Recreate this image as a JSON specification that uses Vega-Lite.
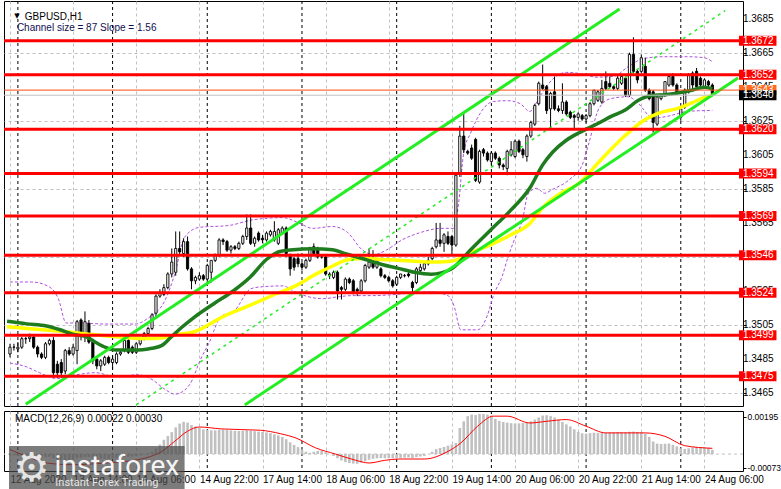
{
  "$schema": "https://vega.github.io/schema/vega-lite/v6.json",
  "background": "#ffffff",
  "padding": {"left": 2, "top": 0, "right": 0, "bottom": 0},
  "config": {
    "view": {"stroke": "#000000", "strokeWidth": 1},
    "axis": {"labelFont": "Liberation Sans", "labelFontSize": 10, "labelColor": "#000000"},
    "text": {"font": "Liberation Sans"}
  },
  "datasets": {
    "candles": [
      {"i":0,"o":1.3488,"h":1.3494,"l":1.3486,"c":1.3492},{"i":1,"o":1.3492,"h":1.3494,"l":1.3490,"c":1.3492},{"i":2,"o":1.3491,"h":1.3495,"l":1.3489,"c":1.3492},{"i":3,"o":1.3492,"h":1.3498,"l":1.3491,"c":1.3497},{"i":4,"o":1.3497,"h":1.3498,"l":1.3494,"c":1.3497},{"i":5,"o":1.3497,"h":1.3500,"l":1.3495,"c":1.3498},{"i":6,"o":1.3498,"h":1.3499,"l":1.3491,"c":1.3492},{"i":7,"o":1.3492,"h":1.3493,"l":1.3486,"c":1.3488},{"i":8,"o":1.3488,"h":1.3489,"l":1.3485,"c":1.3486},{"i":9,"o":1.3486,"h":1.3495,"l":1.3485,"c":1.3494},
      {"i":10,"o":1.3494,"h":1.3497,"l":1.3493,"c":1.3496},{"i":11,"o":1.3496,"h":1.3498,"l":1.3474,"c":1.3477},{"i":12,"o":1.3482,"h":1.3484,"l":1.3474,"c":1.3477},{"i":13,"o":1.3483,"h":1.3485,"l":1.3474,"c":1.3477},{"i":14,"o":1.3478,"h":1.3491,"l":1.3476,"c":1.3490},{"i":15,"o":1.3490,"h":1.3492,"l":1.3487,"c":1.3488},{"i":16,"o":1.3488,"h":1.3494,"l":1.3487,"c":1.3492},{"i":17,"o":1.3490,"h":1.3508,"l":1.3482,"c":1.3507},{"i":18,"o":1.3508,"h":1.3509,"l":1.3496,"c":1.3499},{"i":19,"o":1.3499,"h":1.3513,"l":1.3495,"c":1.3507},
      {"i":20,"o":1.3506,"h":1.3508,"l":1.3494,"c":1.3495},{"i":21,"o":1.3495,"h":1.3496,"l":1.3482,"c":1.3484},{"i":22,"o":1.3485,"h":1.3486,"l":1.3479,"c":1.3481},{"i":23,"o":1.3481,"h":1.3485,"l":1.3478,"c":1.3484},{"i":24,"o":1.3482,"h":1.3487,"l":1.3481,"c":1.3486},{"i":25,"o":1.3486,"h":1.3487,"l":1.3482,"c":1.3483},{"i":26,"o":1.3483,"h":1.3487,"l":1.3479,"c":1.3485},{"i":27,"o":1.3483,"h":1.3489,"l":1.3482,"c":1.3488},{"i":28,"o":1.3488,"h":1.3490,"l":1.3487,"c":1.3489},{"i":29,"o":1.3490,"h":1.3497,"l":1.3489,"c":1.3496},
      {"i":30,"o":1.3496,"h":1.3498,"l":1.3488,"c":1.3489},{"i":31,"o":1.3492,"h":1.3493,"l":1.3488,"c":1.3489},{"i":32,"o":1.3489,"h":1.3495,"l":1.3488,"c":1.3494},{"i":33,"o":1.3494,"h":1.3498,"l":1.3493,"c":1.3497},{"i":34,"o":1.3497,"h":1.3501,"l":1.3496,"c":1.3500},{"i":35,"o":1.3500,"h":1.3504,"l":1.3499,"c":1.3503},{"i":36,"o":1.3503,"h":1.3512,"l":1.3502,"c":1.3511},{"i":37,"o":1.3512,"h":1.3523,"l":1.3510,"c":1.3522},{"i":38,"o":1.3522,"h":1.3526,"l":1.3521,"c":1.3524},{"i":39,"o":1.3523,"h":1.3529,"l":1.3522,"c":1.3527},
      {"i":40,"o":1.3527,"h":1.3536,"l":1.3526,"c":1.3535},{"i":41,"o":1.3535,"h":1.3550,"l":1.3533,"c":1.3542},{"i":42,"o":1.3536,"h":1.3560,"l":1.3534,"c":1.3550},{"i":43,"o":1.3550,"h":1.3560,"l":1.3546,"c":1.3548},{"i":44,"o":1.3547,"h":1.3556,"l":1.3545,"c":1.3554},{"i":45,"o":1.3554,"h":1.3557,"l":1.3537,"c":1.3538},{"i":46,"o":1.3538,"h":1.3539,"l":1.3526,"c":1.3531},{"i":47,"o":1.3531,"h":1.3534,"l":1.3529,"c":1.3533},{"i":48,"o":1.3532,"h":1.3536,"l":1.3531,"c":1.3534},{"i":49,"o":1.3534,"h":1.3535,"l":1.3531,"c":1.3532},
      {"i":50,"o":1.3532,"h":1.3541,"l":1.3530,"c":1.3540},{"i":51,"o":1.3536,"h":1.3543,"l":1.3530,"c":1.3543},{"i":52,"o":1.3543,"h":1.3547,"l":1.3542,"c":1.3546},{"i":53,"o":1.3546,"h":1.3556,"l":1.3545,"c":1.3555},{"i":54,"o":1.3555,"h":1.3556,"l":1.3552,"c":1.3554},{"i":55,"o":1.3554,"h":1.3555,"l":1.3548,"c":1.3549},{"i":56,"o":1.3549,"h":1.3552,"l":1.3547,"c":1.3551},{"i":57,"o":1.3551,"h":1.3552,"l":1.3549,"c":1.3550},{"i":58,"o":1.3550,"h":1.3554,"l":1.3549,"c":1.3553},{"i":59,"o":1.3553,"h":1.3558,"l":1.3552,"c":1.3557},
      {"i":60,"o":1.3557,"h":1.3570,"l":1.3555,"c":1.3562},{"i":61,"o":1.3562,"h":1.3570,"l":1.3552,"c":1.3553},{"i":62,"o":1.3553,"h":1.3557,"l":1.3551,"c":1.3556},{"i":63,"o":1.3559,"h":1.3560,"l":1.3554,"c":1.3555},{"i":64,"o":1.3556,"h":1.3558,"l":1.3553,"c":1.3555},{"i":65,"o":1.3555,"h":1.3560,"l":1.3554,"c":1.3559},{"i":66,"o":1.3558,"h":1.3561,"l":1.3557,"c":1.3560},{"i":67,"o":1.3555,"h":1.3566,"l":1.3554,"c":1.3560},{"i":68,"o":1.3553,"h":1.3562,"l":1.3552,"c":1.3561},{"i":69,"o":1.3559,"h":1.3563,"l":1.3558,"c":1.3562},
      {"i":70,"o":1.3562,"h":1.3563,"l":1.3545,"c":1.3547},{"i":71,"o":1.3546,"h":1.3547,"l":1.3534,"c":1.3538},{"i":72,"o":1.3544,"h":1.3545,"l":1.3537,"c":1.3539},{"i":73,"o":1.3544,"h":1.3547,"l":1.3539,"c":1.3541},{"i":74,"o":1.3541,"h":1.3542,"l":1.3537,"c":1.3539},{"i":75,"o":1.3539,"h":1.3544,"l":1.3538,"c":1.3543},{"i":76,"o":1.3543,"h":1.3551,"l":1.3542,"c":1.3550},{"i":77,"o":1.3551,"h":1.3553,"l":1.3546,"c":1.3547},{"i":78,"o":1.3550,"h":1.3551,"l":1.3544,"c":1.3545},{"i":79,"o":1.3545,"h":1.3546,"l":1.3544,"c":1.3545},
      {"i":80,"o":1.3545,"h":1.3546,"l":1.3534,"c":1.3535},{"i":81,"o":1.3535,"h":1.3536,"l":1.3532,"c":1.3534},{"i":82,"o":1.3533,"h":1.3537,"l":1.3532,"c":1.3536},{"i":83,"o":1.3536,"h":1.3537,"l":1.3520,"c":1.3525},{"i":84,"o":1.3527,"h":1.3528,"l":1.3520,"c":1.3526},{"i":85,"o":1.3526,"h":1.3533,"l":1.3525,"c":1.3532},{"i":86,"o":1.3532,"h":1.3533,"l":1.3529,"c":1.3530},{"i":87,"o":1.3531,"h":1.3532,"l":1.3523,"c":1.3524},{"i":88,"o":1.3526,"h":1.3527,"l":1.3522,"c":1.3525},{"i":89,"o":1.3525,"h":1.3532,"l":1.3524,"c":1.3531},
      {"i":90,"o":1.3531,"h":1.3541,"l":1.3530,"c":1.3540},{"i":91,"o":1.3539,"h":1.3550,"l":1.3538,"c":1.3542},{"i":92,"o":1.3542,"h":1.3549,"l":1.3538,"c":1.3539},{"i":93,"o":1.3539,"h":1.3544,"l":1.3538,"c":1.3543},{"i":94,"o":1.3538,"h":1.3539,"l":1.3533,"c":1.3534},{"i":95,"o":1.3534,"h":1.3535,"l":1.3532,"c":1.3533},{"i":96,"o":1.3533,"h":1.3534,"l":1.3530,"c":1.3531},{"i":97,"o":1.3531,"h":1.3532,"l":1.3527,"c":1.3528},{"i":98,"o":1.3529,"h":1.3534,"l":1.3528,"c":1.3533},{"i":99,"o":1.3533,"h":1.3535,"l":1.3532,"c":1.3535},
      {"i":100,"o":1.3534,"h":1.3535,"l":1.3533,"c":1.3534},{"i":101,"o":1.3535,"h":1.3536,"l":1.3533,"c":1.3534},{"i":102,"o":1.3530,"h":1.3531,"l":1.3523,"c":1.3527},{"i":103,"o":1.3530,"h":1.3539,"l":1.3529,"c":1.3538},{"i":104,"o":1.3537,"h":1.3541,"l":1.3536,"c":1.3539},{"i":105,"o":1.3538,"h":1.3542,"l":1.3537,"c":1.3541},{"i":106,"o":1.3541,"h":1.3545,"l":1.3540,"c":1.3543},{"i":107,"o":1.3544,"h":1.3551,"l":1.3543,"c":1.3550},{"i":108,"o":1.3551,"h":1.3565,"l":1.3550,"c":1.3555},{"i":109,"o":1.3555,"h":1.3565,"l":1.3551,"c":1.3553},
      {"i":110,"o":1.3553,"h":1.3559,"l":1.3548,"c":1.3558},{"i":111,"o":1.3557,"h":1.3560,"l":1.3552,"c":1.3553},{"i":112,"o":1.3557,"h":1.3558,"l":1.3546,"c":1.3552},{"i":113,"o":1.3552,"h":1.3594,"l":1.3551,"c":1.3593},{"i":114,"o":1.3594,"h":1.3622,"l":1.3592,"c":1.3616},{"i":115,"o":1.3616,"h":1.3630,"l":1.3606,"c":1.3608},{"i":116,"o":1.3607,"h":1.3608,"l":1.3605,"c":1.3606},{"i":117,"o":1.3609,"h":1.3611,"l":1.3602,"c":1.3603},{"i":118,"o":1.3614,"h":1.3615,"l":1.3589,"c":1.3590},{"i":119,"o":1.3589,"h":1.3608,"l":1.3588,"c":1.3607},
      {"i":120,"o":1.3608,"h":1.3609,"l":1.3604,"c":1.3606},{"i":121,"o":1.3606,"h":1.3607,"l":1.3601,"c":1.3602},{"i":122,"o":1.3601,"h":1.3607,"l":1.3599,"c":1.3606},{"i":123,"o":1.3606,"h":1.3607,"l":1.3602,"c":1.3603},{"i":124,"o":1.3603,"h":1.3604,"l":1.3597,"c":1.3599},{"i":125,"o":1.3599,"h":1.3600,"l":1.3596,"c":1.3598},{"i":126,"o":1.3597,"h":1.3608,"l":1.3593,"c":1.3607},{"i":127,"o":1.3605,"h":1.3613,"l":1.3604,"c":1.3608},{"i":128,"o":1.3604,"h":1.3614,"l":1.3603,"c":1.3613},{"i":129,"o":1.3613,"h":1.3614,"l":1.3606,"c":1.3607},
      {"i":130,"o":1.3608,"h":1.3609,"l":1.3603,"c":1.3605},{"i":131,"o":1.3604,"h":1.3617,"l":1.3601,"c":1.3616},{"i":132,"o":1.3616,"h":1.3625,"l":1.3615,"c":1.3624},{"i":133,"o":1.3623,"h":1.3635,"l":1.3622,"c":1.3634},{"i":134,"o":1.3635,"h":1.3648,"l":1.3634,"c":1.3647},{"i":135,"o":1.3646,"h":1.3658,"l":1.3643,"c":1.3644},{"i":136,"o":1.3645,"h":1.3646,"l":1.3629,"c":1.3631},{"i":137,"o":1.3632,"h":1.3642,"l":1.3620,"c":1.3641},{"i":138,"o":1.3642,"h":1.3651,"l":1.3631,"c":1.3632},{"i":139,"o":1.3632,"h":1.3634,"l":1.3630,"c":1.3631},
      {"i":140,"o":1.3631,"h":1.3647,"l":1.3629,"c":1.3636},{"i":141,"o":1.3636,"h":1.3637,"l":1.3628,"c":1.3629},{"i":142,"o":1.3630,"h":1.3631,"l":1.3626,"c":1.3627},{"i":143,"o":1.3628,"h":1.3629,"l":1.3620,"c":1.3627},{"i":144,"o":1.3627,"h":1.3630,"l":1.3625,"c":1.3629},{"i":145,"o":1.3628,"h":1.3629,"l":1.3625,"c":1.3626},{"i":146,"o":1.3626,"h":1.3629,"l":1.3624,"c":1.3628},{"i":147,"o":1.3628,"h":1.3636,"l":1.3627,"c":1.3635},{"i":148,"o":1.3635,"h":1.3643,"l":1.3634,"c":1.3643},{"i":149,"o":1.3637,"h":1.3643,"l":1.3636,"c":1.3642},
      {"i":150,"o":1.3636,"h":1.3649,"l":1.3635,"c":1.3644},{"i":151,"o":1.3648,"h":1.3654,"l":1.3643,"c":1.3644},{"i":152,"o":1.3647,"h":1.3651,"l":1.3644,"c":1.3645},{"i":153,"o":1.3645,"h":1.3646,"l":1.3643,"c":1.3644},{"i":154,"o":1.3644,"h":1.3652,"l":1.3643,"c":1.3650},{"i":155,"o":1.3647,"h":1.3652,"l":1.3646,"c":1.3651},{"i":156,"o":1.3650,"h":1.3651,"l":1.3639,"c":1.3640},{"i":157,"o":1.3640,"h":1.3665,"l":1.3639,"c":1.3664},{"i":158,"o":1.3664,"h":1.3674,"l":1.3653,"c":1.3654},{"i":159,"o":1.3654,"h":1.3655,"l":1.3647,"c":1.3649},
      {"i":160,"o":1.3654,"h":1.3664,"l":1.3653,"c":1.3662},{"i":161,"o":1.3657,"h":1.3662,"l":1.3642,"c":1.3643},{"i":162,"o":1.3643,"h":1.3644,"l":1.3637,"c":1.3638},{"i":163,"o":1.3642,"h":1.3643,"l":1.3618,"c":1.3624},{"i":164,"o":1.3623,"h":1.3640,"l":1.3622,"c":1.3639},{"i":165,"o":1.3638,"h":1.3641,"l":1.3637,"c":1.3640},{"i":166,"o":1.3640,"h":1.3648,"l":1.3639,"c":1.3648},{"i":167,"o":1.3646,"h":1.3652,"l":1.3645,"c":1.3651},{"i":168,"o":1.3651,"h":1.3653,"l":1.3645,"c":1.3646},{"i":169,"o":1.3646,"h":1.3647,"l":1.3641,"c":1.3642},
      {"i":170,"o":1.3627,"h":1.3633,"l":1.3625,"c":1.3632},{"i":171,"o":1.3633,"h":1.3644,"l":1.3632,"c":1.3643},{"i":172,"o":1.3642,"h":1.3653,"l":1.3641,"c":1.3652},{"i":173,"o":1.3653,"h":1.3654,"l":1.3643,"c":1.3646},{"i":174,"o":1.3654,"h":1.3656,"l":1.3644,"c":1.3645},{"i":175,"o":1.3650,"h":1.3651,"l":1.3645,"c":1.3646},{"i":176,"o":1.3645,"h":1.3650,"l":1.3644,"c":1.3649},{"i":177,"o":1.3648,"h":1.3649,"l":1.3644,"c":1.3646},{"i":178,"o":1.3646,"h":1.3647,"l":1.3640,"c":1.3641}
    ],
    "ma": [
      {"s":"fast","i":-0.75,"p":1.35072},{"s":"fast","i":4.25,"p":1.35057},{"s":"fast","i":9.25,"p":1.35045},{"s":"fast","i":12.5,"p":1.35024},{"s":"fast","i":15.9,"p":1.34996},{"s":"fast","i":19.25,"p":1.34982},{"s":"fast","i":21.75,"p":1.34948},{"s":"fast","i":24.25,"p":1.34919},{"s":"fast","i":26.75,"p":1.34904},{"s":"fast","i":32.5,"p":1.34904},{"s":"fast","i":35,"p":1.34910},{"s":"fast","i":38.4,"p":1.34929},{"s":"fast","i":40.9,"p":1.34981},{"s":"fast","i":43.4,"p":1.35034},{"s":"fast","i":46.75,"p":1.35097},{"s":"fast","i":51.75,"p":1.35177},{"s":"fast","i":56.75,"p":1.35253},{"s":"fast","i":60.9,"p":1.35332},{"s":"fast","i":65,"p":1.35435},{"s":"fast","i":68.4,"p":1.35482},{"s":"fast","i":71.75,"p":1.35492},{"s":"fast","i":76.75,"p":1.35498},{"s":"fast","i":81.75,"p":1.35492},{"s":"fast","i":85,"p":1.35469},{"s":"fast","i":89.25,"p":1.35441},{"s":"fast","i":94.25,"p":1.35406},{"s":"fast","i":98.4,"p":1.35383},{"s":"fast","i":102.5,"p":1.35360},{"s":"fast","i":106.75,"p":1.35349},{"s":"fast","i":111.75,"p":1.35378},{"s":"fast","i":116.75,"p":1.35492},{"s":"fast","i":121.75,"p":1.35607},{"s":"fast","i":126.75,"p":1.35721},{"s":"fast","i":131.75,"p":1.35855},{"s":"fast","i":135,"p":1.35991},{"s":"fast","i":137.5,"p":1.36065},{"s":"fast","i":140.9,"p":1.36134},{"s":"fast","i":144.25,"p":1.36180},{"s":"fast","i":149.25,"p":1.36237},{"s":"fast","i":152.5,"p":1.36277},{"s":"fast","i":155.9,"p":1.36313},{"s":"fast","i":159.25,"p":1.36370},{"s":"fast","i":162.5,"p":1.36399},{"s":"fast","i":165.9,"p":1.36403},{"s":"fast","i":169.25,"p":1.36413},{"s":"fast","i":172.5,"p":1.36428},{"s":"fast","i":175.9,"p":1.36447},{"s":"fast","i":178,"p":1.36438},
      {"s":"slow","i":-0.75,"p":1.35040},{"s":"slow","i":7.5,"p":1.35024},{"s":"slow","i":14.25,"p":1.35011},{"s":"slow","i":20.9,"p":1.34994},{"s":"slow","i":26.75,"p":1.34982},{"s":"slow","i":32.5,"p":1.34971},{"s":"slow","i":35.9,"p":1.34971},{"s":"slow","i":39.25,"p":1.34977},{"s":"slow","i":42.5,"p":1.34994},{"s":"slow","i":46.75,"p":1.35011},{"s":"slow","i":54.25,"p":1.35103},{"s":"slow","i":60.9,"p":1.35167},{"s":"slow","i":67.5,"p":1.35234},{"s":"slow","i":72.5,"p":1.35282},{"s":"slow","i":77.5,"p":1.35349},{"s":"slow","i":81.75,"p":1.35397},{"s":"slow","i":85.9,"p":1.35435},{"s":"slow","i":90,"p":1.35441},{"s":"slow","i":94.25,"p":1.35435},{"s":"slow","i":98.4,"p":1.35431},{"s":"slow","i":102.5,"p":1.35425},{"s":"slow","i":106.75,"p":1.35420},{"s":"slow","i":111.75,"p":1.35425},{"s":"slow","i":116.75,"p":1.35475},{"s":"slow","i":121.75,"p":1.35521},{"s":"slow","i":126.75,"p":1.35578},{"s":"slow","i":131.75,"p":1.35647},{"s":"slow","i":135,"p":1.35740},{"s":"slow","i":139.25,"p":1.35819},{"s":"slow","i":144.25,"p":1.35884},{"s":"slow","i":149.25,"p":1.36008},{"s":"slow","i":155.9,"p":1.36163},{"s":"slow","i":160.9,"p":1.36256},{"s":"slow","i":164.25,"p":1.36294},{"s":"slow","i":169.25,"p":1.36323},{"s":"slow","i":172.5,"p":1.36352},{"s":"slow","i":175.9,"p":1.36386},{"s":"slow","i":178,"p":1.36399}
    ],
    "bb": [
      {"b":"up","i":0,"p":1.35303},{"b":"up","i":5.5,"p":1.35303},{"b":"up","i":10,"p":1.35274},{"b":"up","i":12.25,"p":1.35205},{"b":"up","i":14.25,"p":1.35062},{"b":"up","i":18,"p":1.35062},{"b":"up","i":24.25,"p":1.35056},{"b":"up","i":31.75,"p":1.35056},{"b":"up","i":35,"p":1.35091},{"b":"up","i":39.25,"p":1.35194},{"b":"up","i":41.75,"p":1.35349},{"b":"up","i":44.25,"p":1.35566},{"b":"up","i":48,"p":1.35624},{"b":"up","i":55.5,"p":1.35635},{"b":"up","i":61.75,"p":1.35669},{"b":"up","i":69.25,"p":1.35681},{"b":"up","i":73,"p":1.35652},{"b":"up","i":76.75,"p":1.35618},{"b":"up","i":81.75,"p":1.35629},{"b":"up","i":85.5,"p":1.35595},{"b":"up","i":89.25,"p":1.35492},{"b":"up","i":92.25,"p":1.35463},{"b":"up","i":95.5,"p":1.35492},{"b":"up","i":99.25,"p":1.35549},{"b":"up","i":104.25,"p":1.35595},{"b":"up","i":109.25,"p":1.35618},{"b":"up","i":112.5,"p":1.35618},{"b":"up","i":113.75,"p":1.35778},{"b":"up","i":115,"p":1.36065},{"b":"up","i":116.75,"p":1.36179},{"b":"up","i":122.5,"p":1.36363},{"b":"up","i":126,"p":1.36368},{"b":"up","i":129.25,"p":1.36351},{"b":"up","i":131.75,"p":1.36305},{"b":"up","i":134.25,"p":1.36391},{"b":"up","i":137.5,"p":1.36494},{"b":"up","i":141,"p":1.36534},{"b":"up","i":145.5,"p":1.36523},{"b":"up","i":148.5,"p":1.36506},{"b":"up","i":153,"p":1.36511},{"b":"up","i":156.75,"p":1.36569},{"b":"up","i":160.5,"p":1.36615},{"b":"up","i":165.5,"p":1.36626},{"b":"up","i":171.75,"p":1.36626},{"b":"up","i":176,"p":1.36620},{"b":"up","i":178,"p":1.36597},
      {"b":"lo","i":0,"p":1.34827},{"b":"lo","i":4.25,"p":1.34804},{"b":"lo","i":7.5,"p":1.34770},{"b":"lo","i":11.75,"p":1.34736},{"b":"lo","i":16.75,"p":1.34758},{"b":"lo","i":21.75,"p":1.34770},{"b":"lo","i":26.75,"p":1.34747},{"b":"lo","i":32.5,"p":1.34758},{"b":"lo","i":36,"p":1.34730},{"b":"lo","i":39.25,"p":1.34673},{"b":"lo","i":41.75,"p":1.34644},{"b":"lo","i":44.25,"p":1.34667},{"b":"lo","i":46.25,"p":1.34730},{"b":"lo","i":48,"p":1.34833},{"b":"lo","i":50.5,"p":1.34948},{"b":"lo","i":53.5,"p":1.35102},{"b":"lo","i":56.75,"p":1.35131},{"b":"lo","i":61,"p":1.35263},{"b":"lo","i":63.5,"p":1.35274},{"b":"lo","i":69.25,"p":1.35280},{"b":"lo","i":71.75,"p":1.35251},{"b":"lo","i":75.5,"p":1.35217},{"b":"lo","i":79.25,"p":1.35205},{"b":"lo","i":83.5,"p":1.35217},{"b":"lo","i":86.75,"p":1.35223},{"b":"lo","i":91.75,"p":1.35223},{"b":"lo","i":96.75,"p":1.35228},{"b":"lo","i":102.5,"p":1.35240},{"b":"lo","i":106.75,"p":1.35245},{"b":"lo","i":111,"p":1.35223},{"b":"lo","i":112.5,"p":1.35165},{"b":"lo","i":114.25,"p":1.35022},{"b":"lo","i":118.5,"p":1.35022},{"b":"lo","i":121,"p":1.35108},{"b":"lo","i":122.5,"p":1.35223},{"b":"lo","i":124.75,"p":1.35337},{"b":"lo","i":126.25,"p":1.35452},{"b":"lo","i":127.5,"p":1.35532},{"b":"lo","i":130,"p":1.35681},{"b":"lo","i":131.25,"p":1.35818},{"b":"lo","i":133.5,"p":1.35853},{"b":"lo","i":135.5,"p":1.35824},{"b":"lo","i":137.5,"p":1.35847},{"b":"lo","i":141.75,"p":1.35904},{"b":"lo","i":145,"p":1.35990},{"b":"lo","i":146.75,"p":1.36122},{"b":"lo","i":149.25,"p":1.36322},{"b":"lo","i":152.25,"p":1.36380},{"b":"lo","i":156.75,"p":1.36391},{"b":"lo","i":159.25,"p":1.36351},{"b":"lo","i":163,"p":1.36265},{"b":"lo","i":166.75,"p":1.36277},{"b":"lo","i":171.75,"p":1.36305},{"b":"lo","i":178,"p":1.36311}
    ],
    "chan": [
      {"line":"up","i":4,"p":1.34585},{"line":"up","i":154.5,"p":1.36907},
      {"line":"low","i":59.5,"p":1.34581},{"line":"low","i":184.5,"p":1.36501},
      {"line":"mid","i":32,"p":1.34581},{"line":"mid","i":181.25,"p":1.36897}
    ],
    "levels": [{"p":1.3672},{"p":1.3652},{"p":1.3620},{"p":1.3594},{"p":1.3569},{"p":1.3546},{"p":1.3524},{"p":1.3499},{"p":1.3475}],
    "quotes": [{"p":1.3643,"k":"ask"},{"p":1.3640,"k":"bid"}],
    "ticks": [{"p":1.3465},{"p":1.3485},{"p":1.3505},{"p":1.3525},{"p":1.3545},{"p":1.3565},{"p":1.3585},{"p":1.3605},{"p":1.3625},{"p":1.3645},{"p":1.3665},{"p":1.3685}],
    "days": [{"d":2},{"d":26},{"d":50},{"d":74},{"d":98},{"d":122},{"d":146},{"d":170}],
    "macd": [
      {"i":0,"v":-0.00005},{"i":1,"v":-0.00008},{"i":2,"v":-0.0001},{"i":3,"v":-0.0001},{"i":4,"v":-0.00009},{"i":5,"v":-0.00008},{"i":6,"v":-0.0001},{"i":7,"v":-0.00013},{"i":8,"v":-0.00016},{"i":9,"v":-0.00015},
      {"i":10,"v":-0.00014},{"i":11,"v":-0.00022},{"i":12,"v":-0.00028},{"i":13,"v":-0.00033},{"i":14,"v":-0.00032},{"i":15,"v":-0.00032},{"i":16,"v":-0.0003},{"i":17,"v":-0.00022},{"i":18,"v":-0.0002},{"i":19,"v":-0.00015},
      {"i":20,"v":-0.00015},{"i":21,"v":-0.0002},{"i":22,"v":-0.00024},{"i":23,"v":-0.00025},{"i":24,"v":-0.00025},{"i":25,"v":-0.00025},{"i":26,"v":-0.00024},{"i":27,"v":-0.00022},{"i":28,"v":-0.0002},{"i":29,"v":-0.00015},
      {"i":30,"v":-0.00014},{"i":31,"v":-0.00013},{"i":32,"v":-0.0001},{"i":33,"v":-0.00006},{"i":34,"v":-0.00002},{"i":35,"v":0.00003},{"i":36,"v":0.00012},{"i":37,"v":0.0003},{"i":38,"v":0.0005},{"i":39,"v":0.00075},
      {"i":40,"v":0.00095},{"i":41,"v":0.00115},{"i":42,"v":0.0014},{"i":43,"v":0.0016},{"i":44,"v":0.00169},{"i":45,"v":0.00165},{"i":46,"v":0.00152},{"i":47,"v":0.00145},{"i":48,"v":0.00138},{"i":49,"v":0.0013},
      {"i":50,"v":0.00127},{"i":51,"v":0.00125},{"i":52,"v":0.00124},{"i":53,"v":0.00127},{"i":54,"v":0.00128},{"i":55,"v":0.00126},{"i":56,"v":0.00124},{"i":57,"v":0.00122},{"i":58,"v":0.00121},{"i":59,"v":0.00122},
      {"i":60,"v":0.00124},{"i":61,"v":0.00122},{"i":62,"v":0.0012},{"i":63,"v":0.00118},{"i":64,"v":0.00116},{"i":65,"v":0.00114},{"i":66,"v":0.0011},{"i":67,"v":0.00104},{"i":68,"v":0.00098},{"i":69,"v":0.0009},
      {"i":70,"v":0.00078},{"i":71,"v":0.00062},{"i":72,"v":0.00048},{"i":73,"v":0.00036},{"i":74,"v":0.00024},{"i":75,"v":0.00012},{"i":76,"v":0.00006},{"i":77,"v":0.00012},{"i":78,"v":0.00016},{"i":79,"v":0.00018},
      {"i":80,"v":0.0001},{"i":81,"v":0.0},{"i":82,"v":-0.0001},{"i":83,"v":-0.00022},{"i":84,"v":-0.00034},{"i":85,"v":-0.00042},{"i":86,"v":-0.00047},{"i":87,"v":-0.0005},{"i":88,"v":-0.00051},{"i":89,"v":-0.00045},
      {"i":90,"v":-0.00038},{"i":91,"v":-0.0003},{"i":92,"v":-0.00025},{"i":93,"v":-0.00022},{"i":94,"v":-0.00021},{"i":95,"v":-0.00022},{"i":96,"v":-0.00022},{"i":97,"v":-0.00022},{"i":98,"v":-0.00021},{"i":99,"v":-0.0002},
      {"i":100,"v":-0.00019},{"i":101,"v":-0.00018},{"i":102,"v":-0.0002},{"i":103,"v":-0.00016},{"i":104,"v":-0.00013},{"i":105,"v":-0.0001},{"i":106,"v":0.0},{"i":107,"v":0.00012},{"i":108,"v":0.00026},{"i":109,"v":0.00032},
      {"i":110,"v":0.00037},{"i":111,"v":0.00044},{"i":112,"v":0.0005},{"i":113,"v":0.00058},{"i":114,"v":0.00137},{"i":115,"v":0.00172},{"i":116,"v":0.00199},{"i":117,"v":0.00207},{"i":118,"v":0.00205},{"i":119,"v":0.00211},
      {"i":120,"v":0.0021},{"i":121,"v":0.00207},{"i":122,"v":0.00202},{"i":123,"v":0.00185},{"i":124,"v":0.00174},{"i":125,"v":0.00168},{"i":126,"v":0.00165},{"i":127,"v":0.00162},{"i":128,"v":0.0016},{"i":129,"v":0.00161},
      {"i":130,"v":0.00163},{"i":131,"v":0.00166},{"i":132,"v":0.00172},{"i":133,"v":0.00181},{"i":134,"v":0.00192},{"i":135,"v":0.00202},{"i":136,"v":0.00204},{"i":137,"v":0.00199},{"i":138,"v":0.00192},{"i":139,"v":0.0018},
      {"i":140,"v":0.00168},{"i":141,"v":0.00156},{"i":142,"v":0.00145},{"i":143,"v":0.0013},{"i":144,"v":0.00116},{"i":145,"v":0.00109},{"i":146,"v":0.00107},{"i":147,"v":0.0011},{"i":148,"v":0.00112},{"i":149,"v":0.00111},
      {"i":150,"v":0.0011},{"i":151,"v":0.00111},{"i":152,"v":0.00113},{"i":153,"v":0.00114},{"i":154,"v":0.00115},{"i":155,"v":0.00115},{"i":156,"v":0.00114},{"i":157,"v":0.00117},{"i":158,"v":0.00118},{"i":159,"v":0.00116},
      {"i":160,"v":0.00114},{"i":161,"v":0.00106},{"i":162,"v":0.0009},{"i":163,"v":0.00066},{"i":164,"v":0.00055},{"i":165,"v":0.00053},{"i":166,"v":0.00054},{"i":167,"v":0.00055},{"i":168,"v":0.00048},{"i":169,"v":0.0004},
      {"i":170,"v":0.0003},{"i":171,"v":0.00027},{"i":172,"v":0.0003},{"i":173,"v":0.00035},{"i":174,"v":0.00037},{"i":175,"v":0.00036},{"i":176,"v":0.00037},{"i":177,"v":0.00033},{"i":178,"v":0.00022}
    ],
    "signal": [
      {"i":0,"v":0.00023},{"i":4.25,"v":-0.00012},{"i":9.25,"v":-0.00047},{"i":16,"v":-0.00056},{"i":24.25,"v":-0.00047},{"i":30,"v":-0.00037},{"i":34.25,"v":-0.00021},{"i":38.5,"v":0.00014},{"i":41.75,"v":0.00067},{"i":45,"v":0.0012},{"i":48,"v":0.00142},{"i":53.5,"v":0.00132},{"i":63.5,"v":0.00125},{"i":68.5,"v":0.00107},{"i":72.5,"v":0.00084},{"i":77.5,"v":0.00032},{"i":82.5,"v":0.0},{"i":87.5,"v":-0.00032},{"i":91,"v":-0.00047},{"i":95,"v":-0.00033},{"i":98.5,"v":-0.00026},{"i":105,"v":-0.00026},{"i":111,"v":0.00014},{"i":114.25,"v":0.00058},{"i":118.5,"v":0.00146},{"i":122.5,"v":0.00199},{"i":126,"v":0.00199},{"i":131.75,"v":0.00163},{"i":136,"v":0.00172},{"i":141,"v":0.00181},{"i":146,"v":0.00146},{"i":151,"v":0.00111},{"i":161,"v":0.00111},{"i":166,"v":0.00093},{"i":171,"v":0.00044},{"i":178,"v":0.0003}
    ]
  },
  "vconcat": [
    {
      "width": 739,
      "height": 405,
      "layer": [
        {
          "data": {"name": "days"},
          "mark": {"type": "rule", "color": "#000000", "strokeDash": [3, 3], "strokeWidth": 1},
          "encoding": {
            "x": {"field": "d", "type": "quantitative", "title": null,
              "scale": {"domain": [-0.25, 184.5], "nice": false, "zero": false},
              "axis": {"orient": "bottom", "values": [0,8,16,24,32,40,48,56,64,72,80,88,96,104,112,120,128,136,144,152,160,168,176,184], "grid": true, "gridColor": "#C0C0C0", "gridDash": [3, 3], "gridWidth": 1, "labels": false, "ticks": false, "domain": false}}
          }
        },
        {
          "data": {"name": "ticks"},
          "mark": {"type": "text", "color": "#000000", "fontSize": 10, "align": "left", "baseline": "middle"},
          "encoding": {
            "x": {"datum": 185.75, "type": "quantitative", "scale": {"domain": [-0.25, 184.5], "nice": false, "zero": false}},
            "y": {"field": "p", "type": "quantitative", "title": null,
              "scale": {"domain": [1.34604, 1.36924], "nice": false, "zero": false},
              "axis": {"orient": "right", "values": [1.3465,1.3485,1.3505,1.3525,1.3545,1.3565,1.3585,1.3605,1.3625,1.3645,1.3665,1.3685], "grid": true, "gridColor": "#C0C0C0", "gridDash": [3, 3], "gridWidth": 1, "tickSize": 3, "tickColor": "#000000", "domain": false, "labels": false}},
            "text": {"field": "p", "format": ".4f"}
          }
        },
        {
          "data": {"name": "bb"},
          "mark": {"type": "line", "color": "#B050E0", "strokeWidth": 1, "strokeDash": [3, 2], "interpolate": "monotone", "clip": true},
          "encoding": {
            "x": {"field": "i", "type": "quantitative", "title": null, "scale": {"domain": [-0.25, 184.5], "nice": false, "zero": false}},
            "y": {"field": "p", "type": "quantitative", "title": null, "scale": {"domain": [1.34604, 1.36924], "nice": false, "zero": false}},
            "detail": {"field": "b"}
          }
        },
        {
          "data": {"name": "candles"},
          "mark": {"type": "rule", "color": "#000000", "strokeWidth": 1},
          "encoding": {
            "x": {"field": "i", "type": "quantitative", "title": null, "scale": {"domain": [-0.25, 184.5], "nice": false, "zero": false}},
            "y": {"field": "l", "type": "quantitative", "title": null, "scale": {"domain": [1.34604, 1.36924], "nice": false, "zero": false}},
            "y2": {"field": "h"}
          }
        },
        {
          "data": {"name": "candles"},
          "mark": {"type": "bar", "width": 2.2, "stroke": "#000000", "strokeWidth": 0.9},
          "encoding": {
            "x": {"field": "i", "type": "quantitative", "title": null, "scale": {"domain": [-0.25, 184.5], "nice": false, "zero": false}},
            "y": {"field": "o", "type": "quantitative", "title": null, "scale": {"domain": [1.34604, 1.36924], "nice": false, "zero": false}},
            "y2": {"field": "c"},
            "fill": {"condition": {"test": "datum.c >= datum.o", "value": "#ffffff"}, "value": "#000000"}
          }
        },
        {
          "data": {"name": "ma"},
          "transform": [{"filter": "datum.s == 'slow'"}],
          "mark": {"type": "line", "color": "#FFFF00", "strokeWidth": 3.5, "interpolate": "monotone", "clip": true},
          "encoding": {
            "x": {"field": "i", "type": "quantitative", "title": null, "scale": {"domain": [-0.25, 184.5], "nice": false, "zero": false}},
            "y": {"field": "p", "type": "quantitative", "title": null, "scale": {"domain": [1.34604, 1.36924], "nice": false, "zero": false}}
          }
        },
        {
          "data": {"name": "ma"},
          "transform": [{"filter": "datum.s == 'fast'"}],
          "mark": {"type": "line", "color": "#1E7B1E", "strokeWidth": 3.5, "interpolate": "monotone", "clip": true},
          "encoding": {
            "x": {"field": "i", "type": "quantitative", "title": null, "scale": {"domain": [-0.25, 184.5], "nice": false, "zero": false}},
            "y": {"field": "p", "type": "quantitative", "title": null, "scale": {"domain": [1.34604, 1.36924], "nice": false, "zero": false}}
          }
        },
        {
          "data": {"name": "chan"},
          "transform": [{"filter": "datum.line != 'mid'"}],
          "mark": {"type": "line", "color": "#22EE22", "strokeWidth": 3, "clip": true},
          "encoding": {
            "x": {"field": "i", "type": "quantitative", "title": null, "scale": {"domain": [-0.25, 184.5], "nice": false, "zero": false}},
            "y": {"field": "p", "type": "quantitative", "title": null, "scale": {"domain": [1.34604, 1.36924], "nice": false, "zero": false}},
            "detail": {"field": "line"}
          }
        },
        {
          "data": {"name": "chan"},
          "transform": [{"filter": "datum.line == 'mid'"}],
          "mark": {"type": "line", "color": "#22EE22", "strokeWidth": 1.5, "strokeDash": [3, 4], "clip": true},
          "encoding": {
            "x": {"field": "i", "type": "quantitative", "title": null, "scale": {"domain": [-0.25, 184.5], "nice": false, "zero": false}},
            "y": {"field": "p", "type": "quantitative", "title": null, "scale": {"domain": [1.34604, 1.36924], "nice": false, "zero": false}}
          }
        },
        {
          "data": {"name": "levels"},
          "mark": {"type": "rule", "color": "#FF0000", "strokeWidth": 3},
          "encoding": {
            "y": {"field": "p", "type": "quantitative", "title": null, "scale": {"domain": [1.34604, 1.36924], "nice": false, "zero": false}}
          }
        },
        {
          "data": {"name": "quotes"},
          "transform": [{"filter": "datum.k == 'bid'"}],
          "mark": {"type": "rule", "color": "#C0C0C0", "strokeWidth": 1},
          "encoding": {
            "y": {"field": "p", "type": "quantitative", "title": null, "scale": {"domain": [1.34604, 1.36924], "nice": false, "zero": false}}
          }
        },
        {
          "data": {"name": "quotes"},
          "transform": [{"filter": "datum.k == 'ask'"}],
          "mark": {"type": "rule", "color": "#FF4A10", "strokeWidth": 1},
          "encoding": {
            "y": {"field": "p", "type": "quantitative", "title": null, "scale": {"domain": [1.34604, 1.36924], "nice": false, "zero": false}}
          }
        },
        {
          "data": {"name": "levels"},
          "mark": {"type": "bar", "height": 10, "color": "#FF0000"},
          "encoding": {
            "x": {"datum": 184.75, "type": "quantitative", "scale": {"domain": [-0.25, 184.5], "nice": false, "zero": false}},
            "x2": {"datum": 194.25},
            "y": {"field": "p", "type": "quantitative", "title": null, "scale": {"domain": [1.34604, 1.36924], "nice": false, "zero": false}}
          }
        },
        {
          "data": {"name": "quotes"},
          "mark": {"type": "bar", "height": 10},
          "encoding": {
            "x": {"datum": 184.75, "type": "quantitative", "scale": {"domain": [-0.25, 184.5], "nice": false, "zero": false}},
            "x2": {"datum": 194.25},
            "y": {"field": "p", "type": "quantitative", "title": null, "scale": {"domain": [1.34604, 1.36924], "nice": false, "zero": false}},
            "color": {"field": "k", "type": "nominal", "scale": {"domain": ["ask", "bid"], "range": ["#FF6A20", "#000000"]}, "legend": null}
          }
        },
        {
          "data": {"name": "levels"},
          "mark": {"type": "text", "color": "#ffffff", "fontSize": 10, "align": "left", "baseline": "middle"},
          "encoding": {
            "x": {"datum": 185.75, "type": "quantitative", "scale": {"domain": [-0.25, 184.5], "nice": false, "zero": false}},
            "y": {"field": "p", "type": "quantitative", "title": null, "scale": {"domain": [1.34604, 1.36924], "nice": false, "zero": false}},
            "text": {"field": "p", "format": ".4f"}
          }
        },
        {
          "data": {"name": "quotes"},
          "mark": {"type": "text", "color": "#ffffff", "fontSize": 10, "align": "left", "baseline": "middle"},
          "encoding": {
            "x": {"datum": 185.75, "type": "quantitative", "scale": {"domain": [-0.25, 184.5], "nice": false, "zero": false}},
            "y": {"field": "p", "type": "quantitative", "title": null, "scale": {"domain": [1.34604, 1.36924], "nice": false, "zero": false}},
            "text": {"field": "p", "format": ".4f"}
          }
        },
        {
          "data": {"values": [{"t": "▼"}]},
          "mark": {"type": "text", "color": "#000000", "fontSize": 7, "align": "center", "baseline": "middle", "font": "DejaVu Sans"},
          "encoding": {
            "x": {"datum": 1.75, "type": "quantitative", "scale": {"domain": [-0.25, 184.5], "nice": false, "zero": false}},
            "y": {"datum": 1.36867, "type": "quantitative", "scale": {"domain": [1.34604, 1.36924], "nice": false, "zero": false}},
            "text": {"field": "t"}
          }
        },
        {
          "data": {"values": [{"t": "GBPUSD,H1"}]},
          "mark": {"type": "text", "color": "#000000", "fontSize": 10, "align": "left", "baseline": "middle"},
          "encoding": {
            "x": {"datum": 3.75, "type": "quantitative", "scale": {"domain": [-0.25, 184.5], "nice": false, "zero": false}},
            "y": {"datum": 1.36862, "type": "quantitative", "scale": {"domain": [1.34604, 1.36924], "nice": false, "zero": false}},
            "text": {"field": "t"}
          }
        },
        {
          "data": {"values": [{"t": "Channel size = 87 Slope = 1.56"}]},
          "mark": {"type": "text", "color": "#101050", "fontSize": 10, "align": "left", "baseline": "middle"},
          "encoding": {
            "x": {"datum": 1.75, "type": "quantitative", "scale": {"domain": [-0.25, 184.5], "nice": false, "zero": false}},
            "y": {"datum": 1.36792, "type": "quantitative", "scale": {"domain": [1.34604, 1.36924], "nice": false, "zero": false}},
            "text": {"field": "t"}
          }
        }
      ]
    },
    {
      "width": 739,
      "height": 60,
      "layer": [
        {
          "data": {"name": "days"},
          "mark": {"type": "rule", "color": "#000000", "strokeDash": [3, 3], "strokeWidth": 1},
          "encoding": {
            "x": {"field": "d", "type": "quantitative", "title": null,
              "scale": {"domain": [-0.25, 184.5], "nice": false, "zero": false},
              "axis": {"orient": "bottom", "values": [0,8,16,24,32,40,48,56,64,72,80,88,96,104,112,120,128,136,144,152,160,168,176,184], "grid": true, "gridColor": "#C0C0C0", "gridDash": [3, 3], "gridWidth": 1, "ticks": false, "domain": false, "labelAlign": "left", "labelPadding": 3, "labelFlush": false, "labelOverlap": false,
                "labelExpr": "datum.value % 16 == 0 ? ['12 Aug 2020','13 Aug 14:00','14 Aug 06:00','14 Aug 22:00','17 Aug 14:00','18 Aug 06:00','18 Aug 22:00','19 Aug 14:00','20 Aug 06:00','20 Aug 22:00','21 Aug 14:00','24 Aug 06:00'][datum.value / 16] : ''"}}
          }
        },
        {
          "data": {"values": [{"z": 0}]},
          "mark": {"type": "rule", "color": "#C0C0C0", "strokeDash": [3, 3], "strokeWidth": 1},
          "encoding": {
            "y": {"field": "z", "type": "quantitative", "title": null,
              "scale": {"domain": [-0.00089, 0.00226], "nice": false, "zero": false},
              "axis": {"orient": "right", "values": [0.00195, 0, -0.00073], "grid": false, "tickSize": 3, "tickColor": "#000000", "domain": false, "labelPadding": 1, "labelBaseline": "middle", "labelOverlap": false, "labelFontSize": 8.5,
                "labelExpr": "datum.value == 0 ? '0.00' : (datum.value > 0 ? '0.00195' : '-0.00073')"}}
          }
        },
        {
          "data": {"name": "macd"},
          "mark": {"type": "bar", "width": 2.6, "color": "#C0C0C0"},
          "encoding": {
            "x": {"field": "i", "type": "quantitative", "title": null, "scale": {"domain": [-0.25, 184.5], "nice": false, "zero": false}},
            "y": {"field": "v", "type": "quantitative", "title": null, "scale": {"domain": [-0.00089, 0.00226], "nice": false, "zero": false}},
            "y2": {"datum": 0}
          }
        },
        {
          "data": {"name": "signal"},
          "mark": {"type": "line", "color": "#FF0000", "strokeWidth": 1, "interpolate": "monotone"},
          "encoding": {
            "x": {"field": "i", "type": "quantitative", "title": null, "scale": {"domain": [-0.25, 184.5], "nice": false, "zero": false}},
            "y": {"field": "v", "type": "quantitative", "title": null, "scale": {"domain": [-0.00089, 0.00226], "nice": false, "zero": false}}
          }
        },
        {
          "data": {"values": [{"t": "MACD(12,26,9) 0.00022 0.00030"}]},
          "mark": {"type": "text", "color": "#000000", "fontSize": 10, "align": "left", "baseline": "middle"},
          "encoding": {
            "x": {"datum": 1.25, "type": "quantitative", "scale": {"domain": [-0.25, 184.5], "nice": false, "zero": false}},
            "y": {"datum": 0.00184, "type": "quantitative", "scale": {"domain": [-0.00089, 0.00226], "nice": false, "zero": false}},
            "text": {"field": "t"}
          }
        },
        {
          "data": {"values": [{"t": "logo"}]},
          "mark": {"type": "rect", "color": "#4A4A4A", "opacity": 0.72},
          "encoding": {
            "x": {"datum": -0.25, "type": "quantitative", "scale": {"domain": [-0.25, 184.5], "nice": false, "zero": false}},
            "x2": {"datum": 44.25},
            "y": {"datum": 0.00042, "type": "quantitative", "scale": {"domain": [-0.00089, 0.00226], "nice": false, "zero": false}},
            "y2": {"datum": -0.00195}
          }
        },
        {
          "data": {"values": [{"t": "⚙"}]},
          "mark": {"type": "text", "color": "#F2F2F2", "fontSize": 40, "align": "center", "baseline": "middle", "font": "DejaVu Sans", "opacity": 0.9},
          "encoding": {
            "x": {"datum": 5.5, "type": "quantitative", "scale": {"domain": [-0.25, 184.5], "nice": false, "zero": false}},
            "y": {"datum": -0.0008, "type": "quantitative", "scale": {"domain": [-0.00089, 0.00226], "nice": false, "zero": false}},
            "text": {"field": "t"}
          }
        },
        {
          "data": {"values": [{"t": "instaforex"}]},
          "mark": {"type": "text", "color": "#F5F5F5", "fontSize": 28, "align": "left", "baseline": "alphabetic", "font": "Roboto"},
          "encoding": {
            "x": {"datum": 11.25, "type": "quantitative", "scale": {"domain": [-0.25, 184.5], "nice": false, "zero": false}},
            "y": {"datum": -0.0011, "type": "quantitative", "scale": {"domain": [-0.00089, 0.00226], "nice": false, "zero": false}},
            "text": {"field": "t"}
          }
        },
        {
          "data": {"values": [{"t": "Instant Forex Trading"}]},
          "mark": {"type": "text", "color": "#E6E6E6", "fontSize": 11, "align": "left", "baseline": "alphabetic", "font": "Roboto"},
          "encoding": {
            "x": {"datum": 11.5, "type": "quantitative", "scale": {"domain": [-0.25, 184.5], "nice": false, "zero": false}},
            "y": {"datum": -0.0017, "type": "quantitative", "scale": {"domain": [-0.00089, 0.00226], "nice": false, "zero": false}},
            "text": {"field": "t"}
          }
        }
      ]
    }
  ],
  "spacing": 3,
  "resolve": {"scale": {"x": "independent", "y": "independent"}}
}
